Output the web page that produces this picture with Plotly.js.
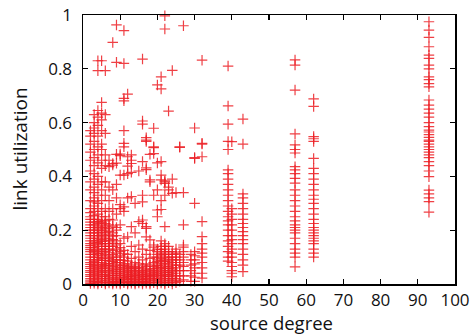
<!DOCTYPE html>
<html>
<head>
<meta charset="utf-8">
<script src="https://cdn.plot.ly/plotly-3.0.1.min.js"></script>
<style>html,body{margin:0;padding:0;background:#fff;}#chart{width:475px;height:336px;}</style>
</head>
<body>
<div id="chart"></div>
<script>
// source degree of each column of points
const degrees = [2,3,4,5,6,7,8,9,10,11,12,13,14,15,16,17,18,19,20,21,22,23,24,25,26,27,29,30,32,39,40,43,57,62,93];
// link utilization values observed at each source degree
const utilization = [
  [0.002,0.008,0.014,0.02,0.028,0.035,0.043,0.05,0.058,0.065,0.073,0.08,0.09,0.1,0.11,0.12,0.128,0.135,0.143,0.15,0.16,0.17,0.18,0.19,0.2,0.21,0.22,0.23,0.24,0.25,0.265,0.28,0.31,0.35,0.38,0.42,0.46,0.49,0.52,0.55,0.57],
  [0.003,0.009,0.015,0.022,0.03,0.038,0.045,0.053,0.06,0.068,0.075,0.083,0.09,0.1,0.11,0.118,0.125,0.135,0.145,0.153,0.16,0.17,0.18,0.19,0.2,0.21,0.22,0.23,0.24,0.255,0.27,0.29,0.305,0.32,0.34,0.36,0.39,0.41,0.44,0.47,0.5,0.53,0.56,0.58,0.6,0.63],
  [0,0.006,0.01,0.018,0.025,0.033,0.04,0.048,0.055,0.063,0.07,0.08,0.09,0.098,0.105,0.113,0.12,0.13,0.14,0.148,0.155,0.163,0.17,0.18,0.19,0.198,0.205,0.215,0.225,0.233,0.24,0.26,0.28,0.3,0.33,0.37,0.4,0.45,0.48,0.51,0.55,0.59,0.62,0.645,0.793,0.83],
  [0.005,0.012,0.02,0.028,0.035,0.043,0.05,0.058,0.065,0.073,0.08,0.088,0.095,0.105,0.115,0.123,0.13,0.14,0.15,0.158,0.165,0.175,0.185,0.193,0.2,0.21,0.22,0.228,0.235,0.25,0.27,0.31,0.35,0.38,0.43,0.46,0.5,0.52,0.57,0.61,0.635,0.675,0.83],
  [0,0.006,0.012,0.02,0.028,0.036,0.045,0.052,0.06,0.068,0.075,0.088,0.1,0.11,0.12,0.13,0.14,0.15,0.16,0.17,0.18,0.19,0.2,0.208,0.215,0.225,0.235,0.25,0.28,0.33,0.38,0.44,0.48,0.56,0.63,0.793],
  [0.004,0.011,0.018,0.025,0.032,0.041,0.05,0.059,0.068,0.076,0.085,0.095,0.105,0.118,0.13,0.14,0.15,0.16,0.17,0.183,0.195,0.208,0.22,0.24,0.27,0.31,0.36,0.436,0.46],
  [0,0.005,0.01,0.018,0.025,0.032,0.04,0.048,0.055,0.065,0.075,0.083,0.09,0.1,0.11,0.125,0.14,0.152,0.165,0.178,0.19,0.215,0.238,0.28,0.35,0.442,0.448,0.898],
  [0.003,0.009,0.015,0.022,0.03,0.038,0.045,0.053,0.06,0.07,0.08,0.09,0.1,0.115,0.13,0.145,0.16,0.18,0.2,0.21,0.26,0.32,0.37,0.449,0.482,0.824,0.963],
  [0,0.006,0.012,0.018,0.025,0.032,0.04,0.048,0.055,0.063,0.07,0.08,0.09,0.105,0.12,0.135,0.15,0.22,0.28,0.295,0.405,0.477,0.483],
  [0.005,0.011,0.018,0.024,0.03,0.038,0.045,0.053,0.06,0.068,0.075,0.088,0.1,0.112,0.125,0.17,0.27,0.287,0.405,0.51,0.523,0.57,0.681,0.69,0.82,0.942],
  [0,0.005,0.01,0.016,0.022,0.028,0.035,0.043,0.05,0.058,0.065,0.075,0.085,0.11,0.175,0.32,0.41,0.438,0.473,0.706],
  [0.003,0.009,0.015,0.021,0.028,0.034,0.04,0.048,0.055,0.062,0.07,0.095,0.14,0.213,0.325,0.415,0.448,0.46,0.48],
  [0,0.006,0.012,0.018,0.025,0.031,0.038,0.044,0.05,0.058,0.065,0.08,0.12,0.19,0.3],
  [0.004,0.01,0.016,0.023,0.03,0.037,0.045,0.052,0.06,0.075,0.1,0.145,0.232,0.42],
  [0,0.005,0.01,0.016,0.022,0.028,0.035,0.042,0.05,0.06,0.07,0.09,0.13,0.225,0.238,0.305,0.33,0.455,0.594,0.606,0.836],
  [0.003,0.009,0.015,0.021,0.028,0.034,0.04,0.048,0.055,0.065,0.075,0.11,0.175,0.207,0.213,0.425,0.432,0.53,0.535,0.544],
  [0,0.006,0.012,0.018,0.025,0.032,0.04,0.048,0.055,0.07,0.095,0.125,0.164,0.38,0.387,0.482],
  [0.005,0.012,0.02,0.028,0.035,0.042,0.05,0.058,0.065,0.08,0.1,0.137,0.145,0.33,0.485,0.507,0.51,0.579],
  [0,0.008,0.015,0.022,0.03,0.038,0.045,0.052,0.06,0.068,0.075,0.083,0.09,0.1,0.11,0.12,0.13,0.25,0.275,0.35,0.45,0.74],
  [0.004,0.011,0.018,0.025,0.032,0.04,0.048,0.055,0.062,0.07,0.078,0.087,0.095,0.105,0.115,0.128,0.14,0.16,0.277,0.31,0.387,0.405,0.455,0.725,0.77],
  [0,0.006,0.012,0.02,0.028,0.035,0.042,0.05,0.058,0.066,0.075,0.083,0.09,0.1,0.11,0.12,0.13,0.14,0.15,0.213,0.33,0.374,0.38,0.383,0.948,0.997],
  [0.005,0.012,0.02,0.028,0.035,0.043,0.05,0.058,0.065,0.075,0.085,0.093,0.1,0.11,0.12,0.14,0.35,0.36,0.643],
  [0,0.008,0.015,0.022,0.03,0.038,0.045,0.053,0.06,0.07,0.08,0.09,0.1,0.11,0.12,0.337,0.39,0.794],
  [0.005,0.012,0.02,0.03,0.04,0.05,0.06,0.07,0.08,0.09,0.1,0.115,0.13,0.34],
  [0.01,0.03,0.05,0.07,0.09,0.11,0.508,0.51],
  [0.015,0.03,0.05,0.065,0.08,0.1,0.12,0.137,0.145,0.22,0.34,0.96],
  [0.01,0.03,0.05,0.07,0.09,0.11],
  [0.01,0.025,0.04,0.06,0.075,0.09,0.105,0.12,0.3,0.467,0.47,0.58],
  [0.022,0.04,0.06,0.08,0.1,0.115,0.13,0.15,0.176,0.232,0.473,0.52,0.523,0.832],
  [0.085,0.1,0.12,0.14,0.16,0.18,0.2,0.22,0.235,0.25,0.27,0.29,0.31,0.33,0.35,0.37,0.39,0.41,0.424,0.5,0.53,0.594,0.662,0.81],
  [0.027,0.04,0.05,0.065,0.08,0.1,0.115,0.13,0.15,0.165,0.18,0.2,0.22,0.24,0.26,0.28,0.529],
  [0.046,0.07,0.09,0.11,0.13,0.15,0.165,0.18,0.195,0.21,0.225,0.24,0.26,0.28,0.3,0.32,0.335,0.52,0.613],
  [0.064,0.1,0.115,0.13,0.15,0.17,0.19,0.2,0.21,0.22,0.235,0.25,0.27,0.29,0.31,0.33,0.35,0.375,0.393,0.41,0.424,0.436,0.487,0.5,0.517,0.558,0.721,0.814,0.833],
  [0.1,0.115,0.13,0.15,0.16,0.17,0.18,0.19,0.2,0.21,0.225,0.24,0.26,0.28,0.3,0.315,0.33,0.35,0.37,0.39,0.41,0.43,0.467,0.53,0.54,0.548,0.66,0.688],
  [0.267,0.306,0.32,0.335,0.349,0.399,0.42,0.44,0.455,0.47,0.48,0.49,0.5,0.51,0.52,0.53,0.535,0.545,0.555,0.565,0.572,0.585,0.6,0.62,0.635,0.65,0.665,0.684,0.733,0.745,0.76,0.77,0.8,0.814,0.839,0.851,0.882,0.917,0.944,0.975]
];
const xTicks = [0,10,20,30,40,50,60,70,80,90,100];
const yTicks = [0,0.2,0.4,0.6,0.8,1];
const xTitle = 'source degree';
const yTitle = 'link utilization';

const xs = [], ys = [];
degrees.forEach((d, i) => utilization[i].forEach(u => { xs.push(d); ys.push(u); }));

const FONT = 'Open Sans, sans-serif';
const axisCommon = {
  showgrid: false, zeroline: false,
  showline: true, linecolor: '#000', linewidth: 1.5,
  mirror: 'ticks', ticks: 'inside', ticklen: 5, tickwidth: 1.2, tickcolor: '#000',
  tickfont: {family: FONT, size: 17, color: '#111'}
};
Plotly.newPlot('chart', [{
  x: xs, y: ys, type: 'scatter', mode: 'markers', cliponaxis: false,
  marker: {symbol: 'cross-thin', size: 7.5, line: {width: 1.2, color: 'rgba(236,30,36,0.85)'}, color: 'rgba(236,30,36,0.85)'},
  hoverinfo: 'none'
}], {
  width: 475, height: 336,
  margin: {l: 83, r: 20, t: 15, b: 52},
  paper_bgcolor: '#fff', plot_bgcolor: '#fff',
  showlegend: false,
  xaxis: Object.assign({}, axisCommon, {
    range: [0, 100], tickvals: xTicks, ticktext: xTicks.map(String),
    ticklabelstandoff: 0
  }),
  yaxis: Object.assign({}, axisCommon, {
    range: [0, 1], tickvals: yTicks, ticktext: yTicks.map(String),
    ticklabelstandoff: 6
  }),
  annotations: [
    {text: xTitle, xref: 'paper', yref: 'paper', x: 0.508, y: -0.142, xanchor: 'center', yanchor: 'middle',
     borderpad: 0, showarrow: false, font: {family: FONT, size: 18.5, color: '#111'}},
    {text: yTitle, xref: 'paper', yref: 'paper', x: -0.172, y: 0.5, xanchor: 'center', yanchor: 'middle',
     borderpad: 0, textangle: -90, showarrow: false, font: {family: FONT, size: 19, color: '#111'}}
  ]
}, {displayModeBar: false, staticPlot: true});
</script>
</body>
</html>
